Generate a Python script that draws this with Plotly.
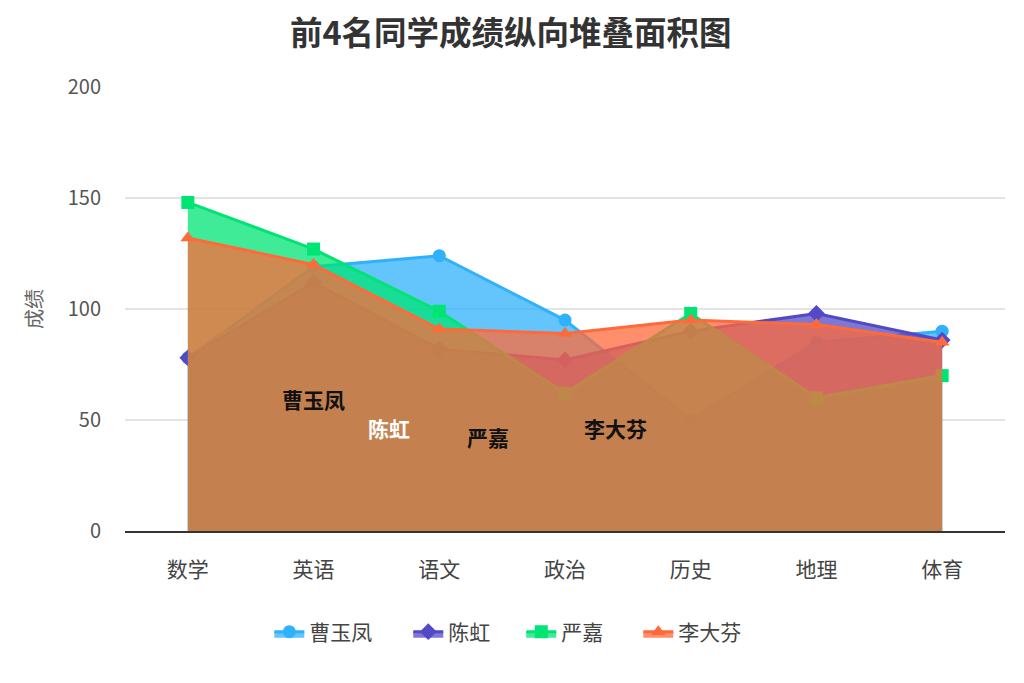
import plotly.graph_objects as go

subjects = ["数学", "英语", "语文", "政治", "历史", "地理", "体育"]
names = ["曹玉凤", "陈虹", "严嘉", "李大芬"]
cao_yufeng = [78, 119, 124, 95, 50, 85, 90]
chen_hong = [78, 112, 82, 77, 90, 98, 86]
yan_jia = [148, 127, 99, 62, 98, 60, 70]
li_dafen = [132, 120, 91, 89, 95, 93, 85]
series = [cao_yufeng, chen_hong, yan_jia, li_dafen]

colors = ["#2fb1fb", "#5349c6", "#00e474", "#ff6a3b"]
fills = ["rgba(47,177,251,0.75)", "rgba(83,73,198,0.75)", "rgba(0,228,116,0.75)", "rgba(255,106,59,0.75)"]
symbols = ["circle", "diamond", "square", "triangle-up"]

# in-area name labels (category index, value)
label_x = [1.0, 1.6, 2.39, 3.4]
label_y = [59.5, 46.4, 42.3, 46.4]
label_colors = ["#111111", "#ffffff", "#111111", "#111111"]

# layout: horizontal start of each legend entry (paper fraction)
legend_x = [0.164, 0.3219, 0.4503, 0.5833]
legend_ids = ["legend", "legend2", "legend3", "legend4"]

font_family = "Noto Sans CJK SC, Noto Sans, sans-serif"

fig = go.Figure()
for name, vals, c, f, s, lg in zip(names, series, colors, fills, symbols, legend_ids):
    fig.add_trace(go.Scatter(
        x=subjects, y=vals, name=name, mode="lines+markers",
        fill="tozeroy", fillcolor=f,
        line=dict(color=c, width=3),
        marker=dict(symbol=s, size=13, color=c),
        legend=lg,
    ))

for t, lx, ly, lc in zip(names, label_x, label_y, label_colors):
    fig.add_annotation(x=lx, y=ly, xref="x", yref="y", text="<b>" + t + "</b>",
                       showarrow=False, font=dict(size=21, color=lc, family=font_family))

legend_layout = {}
for lg, lx in zip(legend_ids, legend_x):
    legend_layout[lg] = dict(orientation="h", x=lx, xanchor="left", y=-0.2275, yanchor="middle",
                             font=dict(size=21, color="#444444"), bgcolor="rgba(0,0,0,0)")

fig.update_layout(
    width=1024, height=683,
    paper_bgcolor="white", plot_bgcolor="white",
    margin=dict(l=117, r=27, t=79, b=160),
    font=dict(family=font_family, color="#333333"),
    title=dict(text="<b>前4名同学成绩纵向堆叠面积图</b>", x=0.491, xanchor="center",
               y=1 - 26 / 683, yanchor="middle", yref="container",
               font=dict(size=32.5, color="#333333", family=font_family)),
    xaxis=dict(type="category", range=[-0.5, 6.5], showgrid=False,
               showline=True, linecolor="#333333", linewidth=1.5,
               ticks="", tickfont=dict(size=21, color="#444444"), ticklabelstandoff=19),
    yaxis=dict(range=[0, 200], tickvals=[0, 50, 100, 150, 200], showgrid=True,
               gridcolor="#e3e3e3", gridwidth=1.5, zeroline=False, showline=False,
               tickfont=dict(size=20, color="#555555"), ticklabelstandoff=23,
               title=dict(text="成绩", font=dict(size=20, color="#666666"), standoff=19)),
    showlegend=True,
    **legend_layout,
)

fig.write_html("out.html")
